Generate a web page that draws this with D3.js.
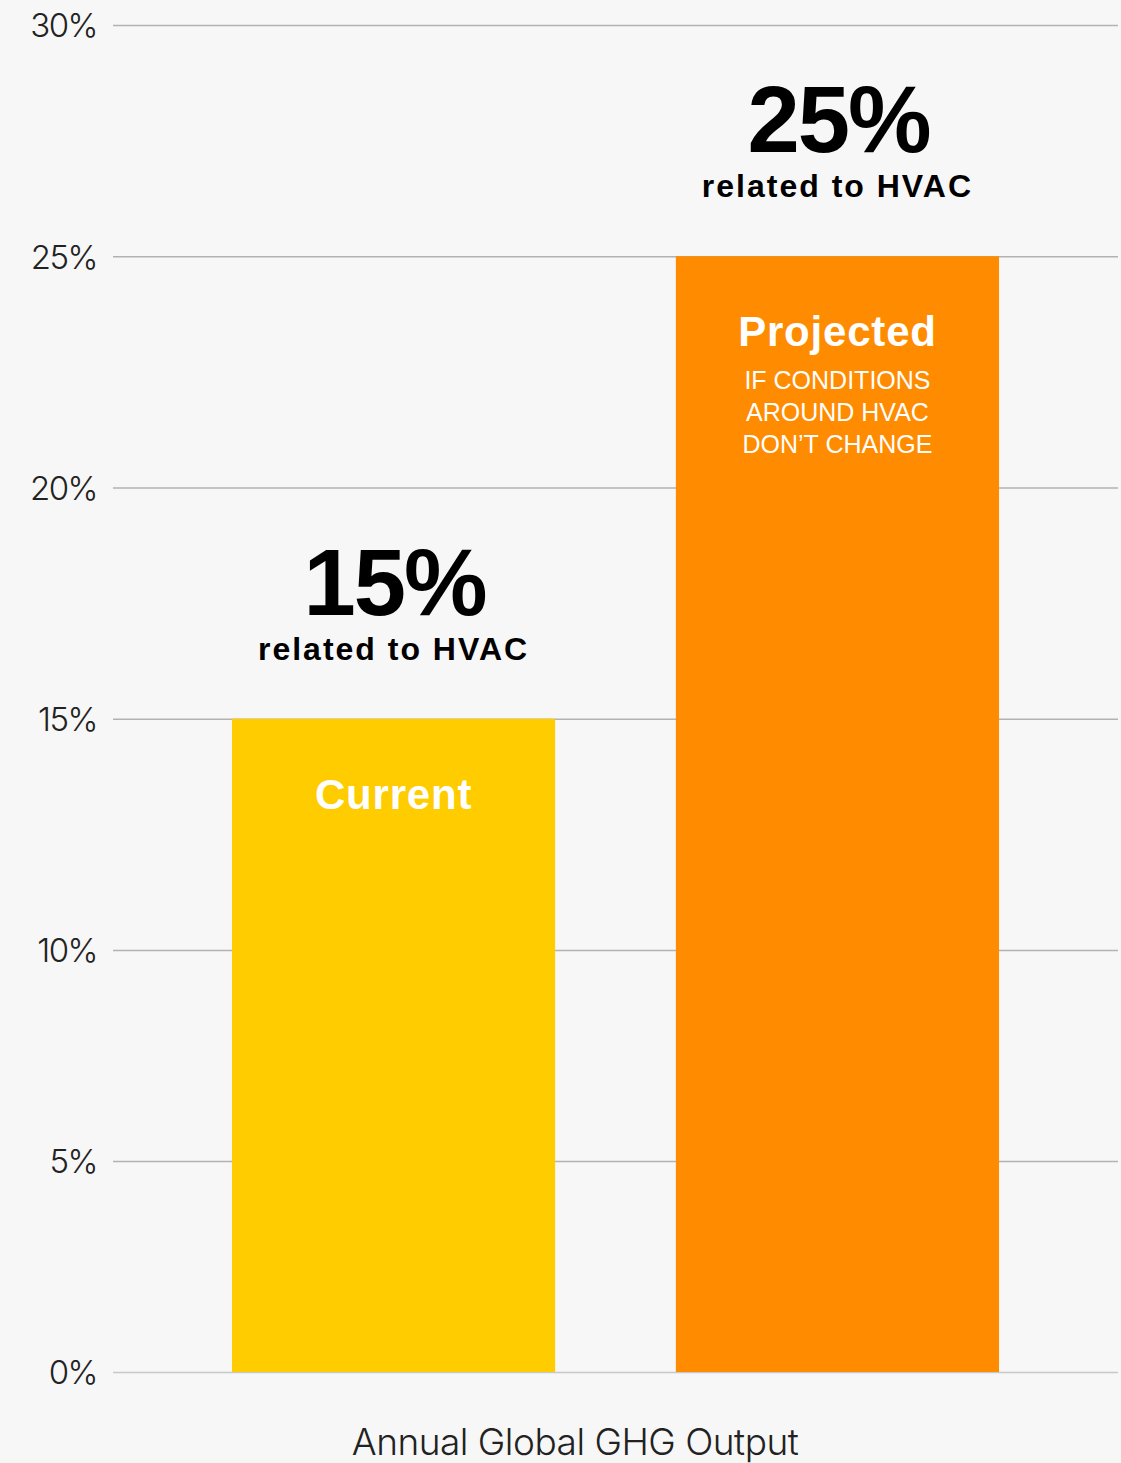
<!DOCTYPE html>
<html>
<head>
<meta charset="utf-8">
<script src="https://cdn.jsdelivr.net/npm/d3@7"></script>
<style>
    html, body { margin: 0; padding: 0; background: #f7f7f7; }
    svg { display: block; }
</style>
</head>
<body>
<div id="chart"></div>
<script>
// Data
var categories = ["Current", "Projected"];
var values = [15, 25];
var bigLabels = ["15%", "25%"];
var subLabels = ["related to HVAC", "related to HVAC"];
var notes = [[], ["IF CONDITIONS", "AROUND HVAC", "DON\u2019T CHANGE"]];
var colours = ["#ffcc00", "#ff8b00"];
var tickValues = [0, 5, 10, 15, 20, 25, 30];
var axisTitle = "Annual Global GHG Output";

var width = 1121,
    height = 1463,
    left = 113,
    right = 1118;

var svg = d3.select("#chart")
    .append("svg")
    .attr("width", width)
    .attr("height", height);

svg.append("rect")
    .attr("width", width)
    .attr("height", height)
    .attr("fill", "#f7f7f7");

// Scales (the source spaces 0-10 tighter than 10-30)
var x = d3.scaleBand()
    .domain(categories)
    .range([left, right])
    .paddingInner(0.272)
    .paddingOuter(0.268);

var y = d3.scaleLinear()
    .domain([0, 10, 30])
    .range([1372, 950, 25]);

// Gridlines + tick labels
var axis = svg.append("g")
    .attr("transform", "translate(" + left + ",0)")
    .call(d3.axisLeft(y)
        .tickValues(tickValues)
        .tickSize(-(right - left))
        .tickPadding(16)
        .tickFormat(function (d) { return d + "%"; }));

axis.select(".domain").remove();
axis.selectAll(".tick line")
    .attr("stroke", function (d) { return d === 0 ? "#c8c8c8" : "#b2b2b2"; })
    .attr("stroke-width", 1.3);
axis.selectAll(".tick text")
    .attr("fill", "#222")
    .attr("dy", "0.36em")
    .style("font-family", "Inter, Roboto, 'Noto Sans', sans-serif")
    .style("font-weight", 300)
    .style("font-size", "33px")
    .style("letter-spacing", "-1.5px");

// Bars
var bars = svg.append("g")
    .selectAll("g")
    .data(categories)
    .enter()
    .append("g");

bars.append("rect")
    .attr("x", function (d) { return x(d); })
    .attr("y", function (d, i) { return y(values[i]); })
    .attr("width", x.bandwidth())
    .attr("height", function (d, i) { return y(0) - y(values[i]); })
    .attr("fill", function (d, i) { return colours[i]; });

var cx = function (d) { return x(d) + x.bandwidth() / 2; };

// Big value above the bar
bars.append("text")
    .attr("x", function (d) { return cx(d) + 1; })
    .attr("y", function (d, i) { return y(values[i]) - 104; })
    .attr("text-anchor", "middle")
    .attr("fill", "#000")
    .style("font-family", "'Liberation Sans', Arial, sans-serif")
    .style("font-weight", 700)
    .style("font-size", "94px")
    .style("letter-spacing", "-2px")
    .text(function (d, i) { return bigLabels[i]; });

bars.append("text")
    .attr("x", cx)
    .attr("y", function (d, i) { return y(values[i]) - 59; })
    .attr("text-anchor", "middle")
    .attr("fill", "#000")
    .style("font-family", "'Liberation Sans', Arial, sans-serif")
    .style("font-weight", 700)
    .style("font-size", "32px")
    .style("letter-spacing", "2px")
    .text(function (d, i) { return subLabels[i]; });

// Category name inside the bar
bars.append("text")
    .attr("x", cx)
    .attr("y", function (d, i) { return y(values[i]) + 90; })
    .attr("text-anchor", "middle")
    .attr("fill", "#fff")
    .style("font-family", "'Liberation Sans', Arial, sans-serif")
    .style("font-weight", 700)
    .style("font-size", "42px")
    .style("letter-spacing", "0.8px")
    .text(function (d) { return d; });

// Notes under the category name
bars.each(function (d, i) {
    d3.select(this).selectAll(".note")
        .data(notes[i])
        .enter()
        .append("text")
        .attr("class", "note")
        .attr("x", cx(d))
        .attr("y", function (n, j) { return y(values[i]) + 133 + j * 32; })
        .attr("text-anchor", "middle")
        .attr("fill", "#fff")
        .style("font-family", "'Liberation Sans', Arial, sans-serif")
        .style("font-size", "25px")
        .text(function (n) { return n; });
});

// Axis title
svg.append("text")
    .attr("x", 575)
    .attr("y", 1455)
    .attr("text-anchor", "middle")
    .attr("fill", "#222")
    .style("font-family", "Inter, Roboto, 'Noto Sans', sans-serif")
    .style("font-weight", 300)
    .style("font-size", "37px")
    .style("letter-spacing", "-0.5px")
    .text(axisTitle);
</script>
</body>
</html>
